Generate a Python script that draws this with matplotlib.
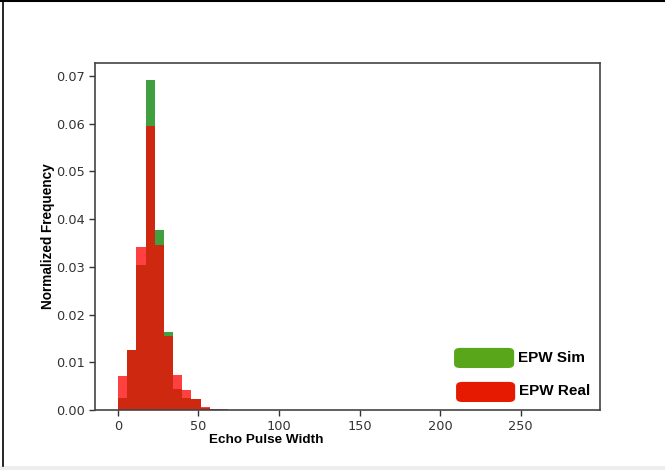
import matplotlib
matplotlib.use("Agg")
import matplotlib.pyplot as plt
from matplotlib.patches import FancyBboxPatch, Rectangle
from matplotlib.lines import Line2D
import numpy as np

# Histogram data (density per bin), 50 bins over 0..285
bin_start = 0.0
bin_stop = 285.0
n_bins = 50
sim_density = [0.0026, 0.0126, 0.0304, 0.0692, 0.0377, 0.0163, 0.0045, 0.0026,
               0.0022, 0.0004, 0.0002, 0.0001] + [0.0] * 38
real_density = [0.0071, 0.0126, 0.0341, 0.0595, 0.0345, 0.0154, 0.0073, 0.0042,
                0.0022, 0.0006, 0.0002, 0.0002] + [0.0] * 38
x_ticks = [0, 50, 100, 150, 200, 250]
y_ticks = [0.00, 0.01, 0.02, 0.03, 0.04, 0.05, 0.06, 0.07]
labels = ["EPW Sim", "EPW Real"]

edges = np.linspace(bin_start, bin_stop, n_bins + 1)
width = edges[1] - edges[0]

fig = plt.figure(figsize=(6.65, 4.7), dpi=100)
ax = fig.add_axes([95/665, 1-410/470, 505/665, 347/470])

ax.bar(edges[:-1], sim_density, width=width, align="edge", color="green", alpha=0.75, linewidth=0)
ax.bar(edges[:-1], real_density, width=width, align="edge", color="red", alpha=0.75, linewidth=0)

ax.set_xlim(-14.25, 299.25)
ax.set_ylim(0, 0.0727)
ax.set_xticks(x_ticks)
ax.set_yticks(y_ticks)
ax.set_yticklabels([f"{v:.2f}" for v in y_ticks])
ax.tick_params(labelsize=9.3, colors="#333333", length=4, width=1)
for s in ax.spines.values():
    s.set_color("#444444")
    s.set_linewidth(1.2)

ax.set_xlabel("Echo Pulse Width", fontsize=9.7, fontweight="bold", family="Liberation Sans", va="center")
ax.xaxis.set_label_coords(0.34, -0.086)
ax.set_ylabel("Normalized Frequency", fontsize=9.8, fontweight="bold", family="Liberation Sans", va="center")
ax.yaxis.set_label_coords(-0.094, 0.5)

# Legend drawn manually with rounded handles
leg_colors = ["#5aa61a", "#e61a00"]
leg_boxes = [(0.711, 0.121, 0.119, 0.058), (0.715, 0.023, 0.117, 0.058)]
leg_text_pos = [(0.838, 0.150), (0.840, 0.054)]
for (x0, y0, w, h), c, lab, (tx, ty) in zip(leg_boxes, leg_colors, labels, leg_text_pos):
    p = FancyBboxPatch((x0, y0), w, h, boxstyle="round,pad=0,rounding_size=0.012",
                       transform=ax.transAxes, facecolor=c, edgecolor="none", clip_on=False)
    ax.add_patch(p)
    ax.text(tx, ty, lab, transform=ax.transAxes, fontsize=11, fontweight="bold",
            family="Liberation Sans", va="center", ha="left", color="black")

# Outer image frame
fig.add_artist(Line2D([3/665, 3/665], [1-466/470, 1.0], transform=fig.transFigure, color="black", lw=1.2))
fig.add_artist(Line2D([0, 1], [1-1/470, 1-1/470], transform=fig.transFigure, color="black", lw=1.5))
fig.add_artist(Rectangle((0, 0), 1, 4/470, transform=fig.transFigure, facecolor="#eeeeee", edgecolor="none"))

fig.savefig("out.png", dpi=100)
